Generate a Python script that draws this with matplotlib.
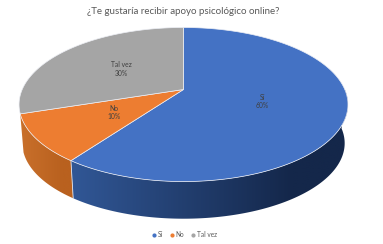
import numpy as np
import matplotlib
matplotlib.use("Agg")
import matplotlib.pyplot as plt
from matplotlib.patches import Polygon
from matplotlib.lines import Line2D
from matplotlib.colors import to_rgb

title = "¿Te gustaría recibir apoyo psicológico online?"
categories = ["Sí", "No", "Tal vez"]
values = [60, 10, 30]
colors = ["#4472C4", "#ED7D31", "#A5A5A5"]
side_left = ["#315796", "#C9702B", None]
side_right = ["#14274A", "#B9611F", None]

plt.rcParams["font.family"] = ["Lato", "DejaVu Sans"]
fig = plt.figure(figsize=(3.83, 2.44), dpi=100, facecolor="white")
ax = fig.add_axes([0, 0, 1, 1])

CX, CY, A, B, K = 183.5, 89.5, 161.3, 74.1, 0.195
DEPTH, SHRINK = 39.0, 0.98


def project(theta, r=1.0, bottom=False):
    """theta: clockwise from 12 o'clock, radians. Perspective disc to pixels."""
    u, v = r * np.sin(theta), r * np.cos(theta)
    w = 1 + K * v
    x, y = A * u / w, -B * v / w
    if bottom:
        return CX + SHRINK * x, CY + DEPTH + SHRINK * y
    return CX + x, CY + y


edges = np.radians(np.concatenate([[0], np.cumsum(values)]) * 3.6)

# side walls: horizontal gradient clipped to the wall outline
for i in range(len(values)):
    if side_left[i] is None:
        continue
    a0, a1 = max(edges[i], np.pi / 2), min(edges[i + 1], 1.5 * np.pi)
    ts = np.linspace(a0, a1, 200)
    xt, yt = project(ts)
    xb, yb = project(ts, bottom=True)
    pts = list(zip(xt, yt)) + list(zip(xb[::-1], yb[::-1]))
    c0, c1 = np.array(to_rgb(side_left[i])), np.array(to_rgb(side_right[i]))
    f = np.clip(np.linspace(0, 1.25, 256), 0, 1)[:, None]
    grad = (c0 + (c1 - c0) * f)[None, :, :]
    poly = Polygon(pts, closed=True, facecolor="none", edgecolor="none", transform=ax.transData)
    ax.add_patch(poly)
    im = ax.imshow(grad, extent=[min(xt.min(), xb.min()), max(xt.max(), xb.max()), 244, 0],
                   aspect="auto", zorder=2, interpolation="bilinear")
    im.set_clip_path(poly)

# seam between front walls
for t in edges[1:2]:
    xa, ya = project(t)
    xb, yb = project(t, bottom=True)
    ax.plot([xa, xb], [ya, yb], color="#DCE3F0", lw=0.6, zorder=3)

# top face
for i in range(len(values)):
    ts = np.linspace(edges[i], edges[i + 1], 200)
    xs, ys = project(ts)
    pts = [(CX, CY)] + list(zip(xs, ys))
    ax.add_patch(Polygon(pts, closed=True, facecolor=colors[i], edgecolor="#EDEFF5",
                         lw=0.5, joinstyle="round", zorder=4))

# data labels
for i, cat in enumerate(categories):
    mid = (edges[i] + edges[i + 1]) / 2
    x, y = project(mid, r=0.5)
    ax.text(x, y, f"{cat}\n{values[i]}%", ha="center", va="center", fontsize=4.9,
            color="#404040", linespacing=1.25, zorder=5)

ax.text(183, 11.5, title, ha="center", va="center", fontsize=7.05, color="#595959")

handles = [Line2D([], [], marker="o", ls="", ms=2.0, color=c) for c in colors]
ax.legend(handles, categories, loc="center", bbox_to_anchor=(184, 234.5),
          bbox_transform=ax.transData, ncol=3, frameon=False, fontsize=4.7,
          labelcolor="#595959", handletextpad=0.1, columnspacing=0.8,
          borderpad=0, handlelength=1.0)

ax.set_xlim(0, 383)
ax.set_ylim(244, 0)
ax.axis("off")
fig.savefig("out.png", dpi=100, facecolor="white")
